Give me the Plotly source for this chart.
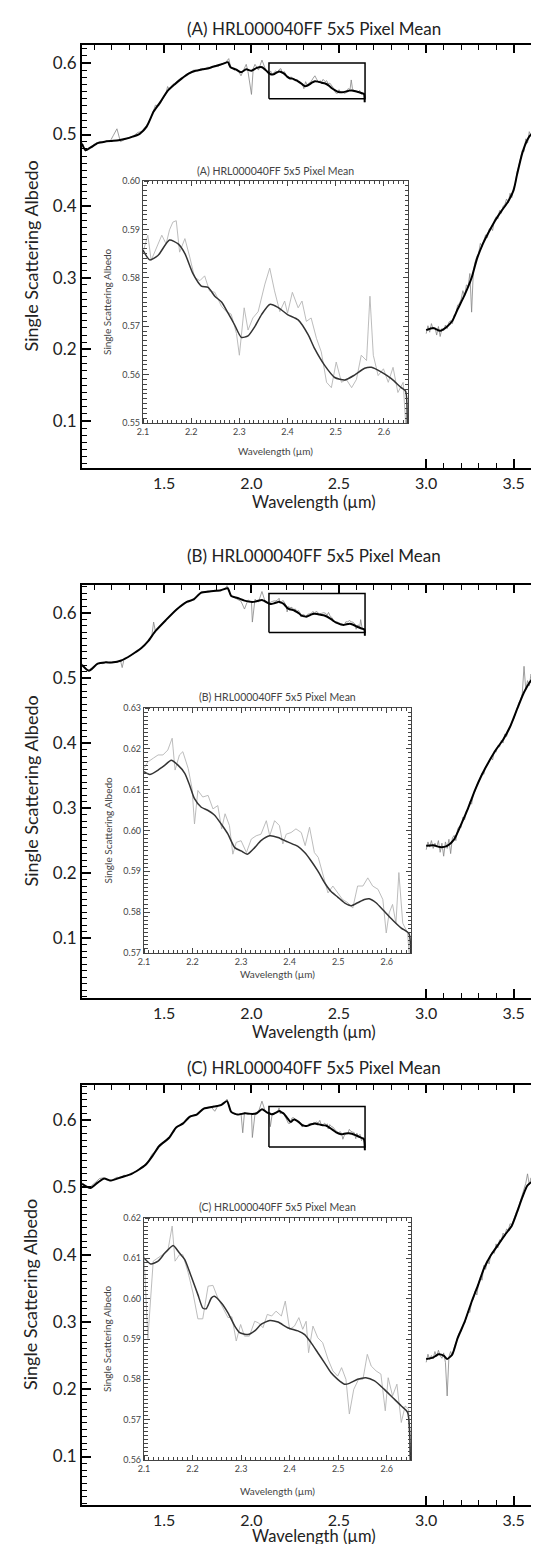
import plotly.graph_objects as go

# ======================= DATA =======================
# ---------- Panel A ----------
A_nir_wl = [1.03,1.04,1.05,1.07,1.09,1.11,1.13,1.15,1.17,1.19,1.21,1.23,1.25,1.27,1.29,1.31,1.33,1.35,1.37,1.39,
            1.41,1.43,1.45,1.47,1.49,1.51,1.52,1.53,1.55,1.57,1.59,1.61,1.63,1.65,1.67,1.69,1.71,1.73,1.75,1.77,
            1.79,1.81,1.83,1.85,1.87,1.88,1.90,1.92,1.94,1.96,1.97,1.98,2.00,2.01,2.02,2.04,2.06,2.08]
A_nir_raw = [0.489,0.482,0.477,0.481,0.485,0.488,0.490,0.489,0.491,0.490,0.499,0.508,0.490,0.493,0.495,0.497,0.499,0.503,0.504,0.510,
             0.516,0.526,0.541,0.540,0.549,0.557,0.567,0.563,0.570,0.573,0.578,0.580,0.585,0.586,0.590,0.589,0.592,0.591,0.594,0.593,
             0.596,0.595,0.599,0.600,0.606,0.595,0.590,0.591,0.582,0.592,0.598,0.588,0.556,0.592,0.598,0.590,0.604,0.591]
A_nir_fit_wl = [1.03,1.05,1.08,1.12,1.16,1.20,1.24,1.28,1.32,1.36,1.40,1.44,1.48,1.52,1.56,1.60,1.64,1.68,1.72,1.76,
                1.80,1.84,1.865,1.88,1.91,1.94,1.97,2.00,2.03,2.06,2.09]
A_nir_fit = [0.487,0.478,0.482,0.488,0.490,0.491,0.492,0.494,0.497,0.501,0.511,0.532,0.546,0.561,0.570,0.578,0.585,0.589,0.591,0.593,
             0.596,0.599,0.601,0.594,0.591,0.587,0.591,0.589,0.593,0.594,0.588]
A_zoom_wl = [2.100,2.110,2.117,2.131,2.139,2.148,2.155,2.162,2.169,2.176,2.187,2.197,2.207,2.218,2.228,2.238,2.249,2.263,2.273,2.283,
             2.294,2.300,2.310,2.318,2.328,2.339,2.353,2.363,2.373,2.384,2.394,2.400,2.410,2.422,2.430,2.439,2.449,2.460,2.470,2.481,
             2.491,2.501,2.512,2.522,2.533,2.543,2.553,2.564,2.571,2.578,2.588,2.599,2.609,2.619,2.629,2.640,2.648]
A_zoom_raw = [0.5853,0.5888,0.5836,0.5870,0.5888,0.5870,0.5899,0.5915,0.5918,0.5853,0.5881,0.5843,0.5801,0.5794,0.5804,0.5773,0.5770,0.5741,0.5730,0.5725,
              0.5685,0.5640,0.5738,0.5692,0.5717,0.5730,0.5787,0.5820,0.5773,0.5730,0.5752,0.5727,0.5770,0.5738,0.5752,0.5710,0.5717,0.5675,0.5647,0.5584,
              0.5573,0.5626,0.5584,0.5590,0.5573,0.5590,0.5640,0.5629,0.5762,0.5640,0.5598,0.5612,0.5584,0.5615,0.5563,0.5584,0.5450]
A_zoom_fit_wl = [2.100,2.114,2.131,2.155,2.173,2.187,2.204,2.221,2.235,2.249,2.263,2.276,2.290,2.304,2.318,2.332,2.346,2.363,2.380,2.400,
                 2.422,2.443,2.456,2.477,2.498,2.519,2.539,2.560,2.574,2.595,2.616,2.636,2.645,2.648]
A_zoom_fit = [0.5857,0.5837,0.5846,0.5878,0.5870,0.5850,0.5808,0.5783,0.5780,0.5762,0.5750,0.5728,0.5703,0.5677,0.5680,0.5699,0.5724,0.5745,0.5739,0.5724,
              0.5713,0.5682,0.5654,0.5619,0.5594,0.5589,0.5599,0.5613,0.5615,0.5605,0.5591,0.5573,0.5566,0.5450]
A_far_wl = [3.00,3.01,3.02,3.03,3.04,3.05,3.06,3.07,3.08,3.09,3.10,3.11,3.12,3.13,3.14,3.15,3.16,3.17,3.18,3.19,
            3.20,3.21,3.22,3.23,3.24,3.25,3.26,3.27,3.28,3.29,3.30,3.31,3.32,3.33,3.34,3.35,3.36,3.37,3.38,3.39,
            3.40,3.41,3.42,3.43,3.44,3.45,3.46,3.47,3.48,3.49,3.50,3.51,3.52,3.53,3.54,3.55,3.56,3.57,3.58,3.59,
            3.60,3.61,3.62,3.63,3.64,3.65,3.66,3.67,3.68]
A_far_raw = [0.222,0.233,0.224,0.236,0.228,0.231,0.220,0.232,0.218,0.229,0.226,0.234,0.229,0.238,0.240,0.236,0.248,0.250,0.262,0.264,
             0.270,0.282,0.274,0.290,0.288,0.306,0.252,0.310,0.322,0.330,0.334,0.348,0.344,0.352,0.360,0.356,0.368,0.370,0.366,0.380,
             0.385,0.382,0.394,0.390,0.400,0.402,0.410,0.405,0.418,0.412,0.426,0.430,0.448,0.456,0.468,0.478,0.476,0.494,0.488,0.504,
             0.498,0.512,0.499,0.515,0.505,0.512,0.500,0.518,0.505]
A_far_fit_wl = [3.00,3.04,3.08,3.12,3.15,3.18,3.22,3.26,3.29,3.32,3.35,3.39,3.43,3.47,3.50,3.52,3.55,3.58,3.60,3.63,3.66,3.68]
A_far_fit = [0.227,0.230,0.226,0.232,0.240,0.256,0.276,0.300,0.326,0.345,0.360,0.378,0.393,0.407,0.422,0.444,0.474,0.493,0.500,0.502,0.501,0.499]

# ---------- Panel B ----------
B_nir_wl = [1.03,1.05,1.07,1.09,1.11,1.13,1.15,1.17,1.19,1.21,1.23,1.25,1.26,1.27,1.29,1.31,1.33,1.35,1.37,1.39,
            1.41,1.43,1.44,1.45,1.47,1.49,1.51,1.53,1.55,1.57,1.59,1.61,1.63,1.65,1.67,1.69,1.71,1.73,1.75,1.77,
            1.79,1.81,1.83,1.85,1.86,1.88,1.90,1.92,1.94,1.96,1.98,2.00,2.005,2.02,2.04,2.06,2.08]
B_nir_raw = [0.522,0.514,0.512,0.517,0.521,0.523,0.522,0.525,0.523,0.525,0.524,0.527,0.516,0.528,0.531,0.535,0.538,0.542,0.546,0.551,
             0.556,0.566,0.586,0.572,0.578,0.584,0.589,0.595,0.600,0.606,0.609,0.614,0.618,0.619,0.622,0.626,0.632,0.632,0.634,0.633,
             0.635,0.634,0.636,0.637,0.642,0.627,0.624,0.621,0.618,0.606,0.620,0.617,0.586,0.621,0.617,0.633,0.616]
B_nir_fit_wl = [1.03,1.07,1.12,1.16,1.20,1.255,1.31,1.37,1.41,1.45,1.51,1.57,1.63,1.67,1.71,1.76,1.825,1.864,1.884,1.92,
                1.96,2.005,2.03,2.06,2.09]
B_nir_fit = [0.520,0.511,0.522,0.524,0.524,0.527,0.535,0.546,0.557,0.572,0.589,0.605,0.617,0.621,0.631,0.633,0.635,0.638,0.626,0.623,
             0.619,0.617,0.618,0.620,0.616]
B_zoom_wl = [2.100,2.108,2.119,2.129,2.139,2.149,2.158,2.164,2.173,2.180,2.191,2.199,2.204,2.211,2.221,2.232,2.242,2.252,2.260,2.267,
             2.276,2.283,2.290,2.300,2.311,2.321,2.331,2.341,2.352,2.359,2.369,2.379,2.386,2.393,2.403,2.413,2.424,2.432,2.441,2.451,
             2.459,2.468,2.479,2.489,2.499,2.509,2.520,2.530,2.540,2.551,2.561,2.571,2.582,2.592,2.599,2.605,2.612,2.619,2.625,2.633,
             2.643,2.649]
B_zoom_raw = [0.6152,0.6168,0.6177,0.6185,0.6185,0.6197,0.6226,0.6148,0.6185,0.6193,0.6152,0.6103,0.6016,0.6098,0.6082,0.6086,0.6053,0.6061,0.6004,0.6041,
              0.6012,0.5942,0.5971,0.5975,0.5946,0.5979,0.5987,0.5991,0.6024,0.5987,0.6024,0.6012,0.5967,0.5991,0.5995,0.6004,0.5995,0.5963,0.6008,0.5946,
              0.5934,0.5897,0.5847,0.5864,0.5847,0.5831,0.5823,0.5810,0.5864,0.5864,0.5884,0.5864,0.5856,0.5831,0.5749,0.5798,0.5819,0.5773,0.5897,0.5773,
              0.5749,0.5650]
B_zoom_fit_wl = [2.100,2.112,2.129,2.143,2.156,2.170,2.184,2.194,2.204,2.218,2.232,2.245,2.259,2.273,2.287,2.300,2.313,2.328,2.341,2.359,
                 2.376,2.396,2.417,2.431,2.444,2.458,2.472,2.485,2.499,2.513,2.527,2.540,2.554,2.564,2.578,2.595,2.612,2.630,2.646,2.649]
B_zoom_fit = [0.6144,0.6137,0.6148,0.6160,0.6172,0.6160,0.6140,0.6111,0.6078,0.6057,0.6049,0.6038,0.6016,0.5991,0.5958,0.5950,0.5942,0.5958,0.5975,0.5987,
              0.5983,0.5972,0.5961,0.5946,0.5926,0.5901,0.5872,0.5851,0.5837,0.5823,0.5816,0.5823,0.5831,0.5833,0.5823,0.5802,0.5781,0.5761,0.5747,0.5650]
B_far_wl = [3.00,3.01,3.02,3.03,3.04,3.05,3.06,3.07,3.08,3.09,3.10,3.11,3.12,3.13,3.14,3.15,3.16,3.17,3.18,3.19,
            3.20,3.21,3.22,3.23,3.24,3.25,3.26,3.27,3.28,3.29,3.30,3.31,3.32,3.33,3.34,3.35,3.36,3.37,3.38,3.39,
            3.40,3.41,3.42,3.43,3.44,3.45,3.46,3.47,3.48,3.49,3.50,3.51,3.52,3.53,3.54,3.55,3.56,3.57,3.58,3.59,
            3.60,3.61,3.62,3.63,3.64,3.65,3.66,3.67,3.68]
B_far_raw = [0.236,0.248,0.240,0.250,0.238,0.246,0.240,0.250,0.232,0.246,0.226,0.248,0.238,0.252,0.230,0.254,0.258,0.250,0.268,0.272,
             0.270,0.286,0.282,0.296,0.298,0.310,0.306,0.322,0.326,0.336,0.340,0.346,0.354,0.352,0.364,0.366,0.372,0.378,0.374,0.388,
             0.386,0.396,0.394,0.404,0.400,0.414,0.410,0.420,0.424,0.432,0.436,0.446,0.452,0.462,0.466,0.476,0.518,0.482,0.496,0.488,
             0.506,0.498,0.512,0.500,0.514,0.504,0.510,0.500,0.506]
B_far_fit_wl = [3.00,3.04,3.08,3.12,3.16,3.20,3.24,3.28,3.32,3.36,3.40,3.44,3.48,3.52,3.56,3.60,3.63,3.66,3.68]
B_far_fit = [0.242,0.243,0.240,0.242,0.252,0.275,0.300,0.328,0.352,0.372,0.390,0.405,0.425,0.452,0.478,0.496,0.502,0.502,0.498]

# ---------- Panel C ----------
C_nir_wl = [1.03,1.05,1.07,1.09,1.11,1.13,1.15,1.17,1.19,1.21,1.23,1.25,1.27,1.29,1.31,1.33,1.35,1.37,1.39,1.41,
            1.43,1.45,1.47,1.49,1.51,1.53,1.55,1.57,1.59,1.61,1.63,1.65,1.67,1.69,1.71,1.73,1.75,1.77,1.79,1.81,
            1.83,1.85,1.86,1.88,1.90,1.92,1.94,1.95,1.96,1.98,2.00,2.005,2.02,2.04,2.06,2.08]
C_nir_raw = [0.507,0.501,0.499,0.503,0.508,0.513,0.514,0.511,0.509,0.512,0.515,0.514,0.518,0.517,0.521,0.522,0.526,0.529,0.534,0.538,
             0.549,0.553,0.562,0.566,0.568,0.575,0.584,0.590,0.592,0.596,0.603,0.606,0.607,0.609,0.614,0.617,0.618,0.619,0.613,0.622,
             0.623,0.627,0.631,0.613,0.609,0.608,0.610,0.581,0.611,0.608,0.610,0.574,0.609,0.612,0.628,0.612]
C_nir_fit_wl = [1.03,1.078,1.12,1.157,1.196,1.255,1.314,1.393,1.432,1.471,1.53,1.569,1.609,1.648,1.687,1.727,1.785,1.825,1.86,1.884,
                1.923,1.962,2.005,2.03,2.06,2.09]
C_nir_fit = [0.505,0.499,0.507,0.513,0.510,0.515,0.520,0.533,0.546,0.561,0.574,0.589,0.595,0.605,0.608,0.617,0.620,0.622,0.628,0.612,
             0.608,0.610,0.609,0.610,0.616,0.611]
C_zoom_wl = [2.100,2.108,2.119,2.129,2.139,2.149,2.158,2.164,2.173,2.180,2.191,2.201,2.211,2.221,2.232,2.242,2.252,2.263,2.273,2.281,
             2.290,2.299,2.307,2.317,2.328,2.336,2.345,2.354,2.363,2.372,2.383,2.391,2.400,2.410,2.419,2.427,2.434,2.439,2.448,2.458,
             2.468,2.479,2.489,2.499,2.507,2.516,2.523,2.532,2.542,2.551,2.560,2.568,2.578,2.588,2.597,2.603,2.612,2.621,2.630,2.638,
             2.645,2.649]
C_zoom_raw = [0.6109,0.5901,0.6093,0.6101,0.6109,0.6118,0.6180,0.6093,0.6109,0.6109,0.6064,0.6014,0.5950,0.5950,0.6031,0.6033,0.6002,0.5977,0.5953,0.5955,
              0.5895,0.5936,0.5907,0.5907,0.5944,0.5940,0.5928,0.5961,0.5957,0.5969,0.5957,0.5994,0.5924,0.5932,0.5953,0.5924,0.5944,0.5866,0.5932,0.5903,
              0.5891,0.5850,0.5821,0.5808,0.5829,0.5800,0.5714,0.5775,0.5800,0.5800,0.5862,0.5833,0.5821,0.5813,0.5722,0.5804,0.5759,0.5788,0.5693,0.5734,
              0.5726,0.5550]
C_zoom_fit_wl = [2.100,2.114,2.129,2.143,2.160,2.173,2.184,2.197,2.211,2.221,2.228,2.239,2.245,2.259,2.273,2.287,2.297,2.314,2.328,2.341,
                 2.359,2.376,2.396,2.417,2.431,2.444,2.458,2.472,2.485,2.499,2.513,2.523,2.540,2.557,2.575,2.595,2.612,2.630,2.643,2.649]
C_zoom_fit = [0.6101,0.6086,0.6093,0.6113,0.6132,0.6113,0.6097,0.6056,0.6010,0.5977,0.5975,0.6002,0.6006,0.5990,0.5965,0.5932,0.5916,0.5911,0.5920,0.5936,
              0.5946,0.5942,0.5928,0.5920,0.5911,0.5891,0.5866,0.5841,0.5817,0.5800,0.5788,0.5790,0.5800,0.5804,0.5796,0.5775,0.5755,0.5734,0.5718,0.5550]
C_far_wl = [3.00,3.01,3.02,3.03,3.04,3.05,3.06,3.07,3.08,3.09,3.10,3.11,3.12,3.13,3.14,3.15,3.16,3.17,3.18,3.19,
            3.20,3.21,3.22,3.23,3.24,3.25,3.26,3.27,3.28,3.29,3.30,3.31,3.32,3.33,3.34,3.35,3.36,3.37,3.38,3.39,
            3.40,3.41,3.42,3.43,3.44,3.45,3.46,3.47,3.48,3.49,3.50,3.51,3.52,3.53,3.54,3.55,3.56,3.57,3.58,3.59,
            3.60,3.61,3.615,3.625,3.635,3.645,3.655,3.66,3.67,3.68]
C_far_raw = [0.240,0.252,0.244,0.250,0.246,0.256,0.248,0.258,0.250,0.246,0.254,0.240,0.190,0.248,0.256,0.250,0.262,0.270,0.276,0.284,
             0.286,0.296,0.298,0.306,0.316,0.314,0.330,0.334,0.346,0.340,0.358,0.366,0.362,0.384,0.378,0.392,0.386,0.400,0.404,0.402,
             0.416,0.410,0.422,0.420,0.432,0.428,0.438,0.436,0.446,0.444,0.452,0.458,0.466,0.472,0.480,0.488,0.496,0.506,0.520,0.504,
             0.514,0.508,0.410,0.515,0.598,0.410,0.512,0.508,0.514,0.510]
C_far_fit_wl = [3.00,3.04,3.07,3.10,3.12,3.15,3.18,3.22,3.26,3.30,3.33,3.37,3.41,3.45,3.49,3.52,3.55,3.58,3.62,3.66,3.68]
C_far_fit = [0.245,0.247,0.252,0.250,0.245,0.252,0.276,0.300,0.330,0.357,0.379,0.399,0.414,0.429,0.443,0.463,0.485,0.503,0.510,0.512,0.509]

# ---- tick labels / texts ----
main_xtick_vals = [1.5, 2.0, 2.5, 3.0, 3.5]
main_xtick_text = ["1.5", "2.0", "2.5", "3.0", "3.5"]
main_ytick_vals = [0.1, 0.2, 0.3, 0.4, 0.5, 0.6]
main_ytick_text = ["0.1", "0.2", "0.3", "0.4", "0.5", "0.6"]
zoom_xtick_vals = [2.1, 2.2, 2.3, 2.4, 2.5, 2.6]
zoom_xtick_text = ["2.1", "2.2", "2.3", "2.4", "2.5", "2.6"]
zoom_ytick_vals = [[0.55, 0.56, 0.57, 0.58, 0.59, 0.60],
                   [0.57, 0.58, 0.59, 0.60, 0.61, 0.62, 0.63],
                   [0.56, 0.57, 0.58, 0.59, 0.60, 0.61, 0.62]]
zoom_ytick_text = [["0.55", "0.56", "0.57", "0.58", "0.59", "0.60"],
                   ["0.57", "0.58", "0.59", "0.60", "0.61", "0.62", "0.63"],
                   ["0.56", "0.57", "0.58", "0.59", "0.60", "0.61", "0.62"]]
far_tick_major = [3.0, 3.5]
far_tick_minor = [3.1, 3.2, 3.3, 3.4, 3.6]
zoom_xrange = [2.1, 2.65]
zoom_yranges = [[0.55, 0.60], [0.57, 0.63], [0.56, 0.62]]
titles = ["(A) HRL000040FF 5x5 Pixel Mean", "(B) HRL000040FF 5x5 Pixel Mean", "(C) HRL000040FF 5x5 Pixel Mean"]
XLABEL = "Wavelength (µm)"
YLABEL = "Single Scattering Albedo"

# ======================= LAYOUT (pixel geometry) =======================
W, H = 539, 1544
FONT = "Lato"
main_xrange = [1.03, 3.68]
geo = [
    dict(main=(74, 537, 37, 460), inset=(135, 400, 173, 415), title_y=20, ititle_y=163, xlab_y=494, ixlab_y=443,
         yrange=[0.0344, 0.625]),
    dict(main=(74, 537, 577, 990), inset=(136, 403, 700, 945), title_y=548, ititle_y=689, xlab_y=1024, ixlab_y=966,
         yrange=[0.008, 0.643]),
    dict(main=(74, 537, 1077, 1497), inset=(136, 403, 1210, 1452), title_y=1059, ititle_y=1199, xlab_y=1528, ixlab_y=1483,
         yrange=[0.028, 0.652]),
]
series = [
    (A_nir_wl, A_nir_raw, A_nir_fit_wl, A_nir_fit, A_zoom_wl, A_zoom_raw, A_zoom_fit_wl, A_zoom_fit, A_far_wl, A_far_raw, A_far_fit_wl, A_far_fit),
    (B_nir_wl, B_nir_raw, B_nir_fit_wl, B_nir_fit, B_zoom_wl, B_zoom_raw, B_zoom_fit_wl, B_zoom_fit, B_far_wl, B_far_raw, B_far_fit_wl, B_far_fit),
    (C_nir_wl, C_nir_raw, C_nir_fit_wl, C_nir_fit, C_zoom_wl, C_zoom_raw, C_zoom_fit_wl, C_zoom_fit, C_far_wl, C_far_raw, C_far_fit_wl, C_far_fit),
]


def grid(start, stop, step, nd, skip=()):
    """Tick-mark positions (axis decoration only)."""
    out, k = [], 0
    while True:
        v = round(start + k * step, nd)
        if v > stop + 1e-9:
            break
        if all(abs(v - s) > 1e-9 for s in skip):
            out.append(v)
        k += 1
    return out


def ax(kind, n):
    return kind if n == 1 else f"{kind}{n}"


def lkey(kind, n):
    return f"{kind}axis" if n == 1 else f"{kind}axis{n}"


fig = go.Figure()
layout = {}
annotations = []

RAW_MAIN = dict(color="#858585", width=0.8)
FIT_MAIN = dict(color="#000000", width=2.0, shape="spline", smoothing=0.6)
RAW_INS = dict(color="#b4b4b4", width=0.9)
FIT_INS = dict(color="#333333", width=1.5, shape="spline", smoothing=0.6)
common = dict(mode="lines", hoverinfo="skip", showlegend=False)
base = dict(showgrid=False, zeroline=False)

top_major = grid(1.5, 3.5, 0.5, 2)
top_minor = grid(1.1, 3.6, 0.1, 2, skip=top_major)
main_y_minor = grid(0.01, 0.65, 0.01, 3, skip=main_ytick_vals)
zoom_x_minor = grid(2.11, 2.65, 0.01, 3, skip=zoom_xtick_vals)


def tickset(vals, minor_vals, color, maj_len, min_len, maj_w, min_w, kind="inside"):
    return dict(tickmode="array", tickvals=vals, ticks=kind, ticklen=maj_len, tickwidth=maj_w, tickcolor=color,
                minor=dict(tickmode="array", tickvals=minor_vals, ticks=kind,
                           ticklen=min_len, tickwidth=min_w, tickcolor=color))


N_AX = 7
for p in range(3):
    g = geo[p]
    (nw, nr, nfw, nf, zw, zr, zfw, zf, fw, fr, ffw, ff) = series[p]
    # independent subplots: main data (m), top strip (t), bottom strip (b), inset (i),
    # left-edge strip (lm), inset left-edge strip (li), inset bottom-edge strip (bi)
    xm, xt, xb, xi, xlm, xli, xbi = [N_AX * p + k for k in range(1, N_AX + 1)]
    ym, yt, yb, yi, ylm, yli, ybi = [N_AX * p + k for k in range(1, N_AX + 1)]
    l, r, t, b = g["main"]
    il, ir, it, ib = g["inset"]
    X = lambda n: ax("x", n)
    Y = lambda n: ax("y", n)
    yr_main = g["yrange"]
    yr_zoom = zoom_yranges[p]
    zoom_y_minor = grid(yr_zoom[0] + 0.001, yr_zoom[1], 0.001, 4, skip=zoom_ytick_vals[p])
    dom_x = [l / W, r / W]
    dom_y = [1 - b / H, 1 - t / H]
    idom_x = [il / W, ir / W]
    idom_y = [1 - ib / H, 1 - it / H]

    fig.add_trace(go.Scatter(x=nw + zw, y=nr + zr, line=RAW_MAIN, xaxis=X(xm), yaxis=Y(ym), **common))
    fig.add_trace(go.Scatter(x=fw, y=fr, line=RAW_MAIN, xaxis=X(xm), yaxis=Y(ym), **common))
    fig.add_trace(go.Scatter(x=nfw + zfw, y=nf + zf, line=FIT_MAIN, xaxis=X(xm), yaxis=Y(ym), **common))
    fig.add_trace(go.Scatter(x=ffw, y=ff, line=FIT_MAIN, xaxis=X(xm), yaxis=Y(ym), **common))
    fig.add_trace(go.Scatter(x=zw, y=zr, line=RAW_INS, xaxis=X(xi), yaxis=Y(yi), **common))
    fig.add_trace(go.Scatter(x=zfw, y=zf, line=FIT_INS, xaxis=X(xi), yaxis=Y(yi), **common))
    # zoom box on the main panel, drawn through the main axes (same range as the inset)
    fig.add_trace(go.Scatter(
        x=[zoom_xrange[0], zoom_xrange[1], zoom_xrange[1], zoom_xrange[0], zoom_xrange[0]],
        y=[yr_zoom[0], yr_zoom[0], yr_zoom[1], yr_zoom[1], yr_zoom[0]],
        line=dict(color="black", width=1.5), xaxis=X(xm), yaxis=Y(ym), **common))
    # empty placeholders so the tick-strip subplots exist
    for xx, yy in [(xt, yt), (xb, yb), (xlm, ylm), (xli, yli), (xbi, ybi)]:
        fig.add_trace(go.Scatter(x=[None], y=[None], xaxis=X(xx), yaxis=Y(yy), **common))

    # ---- main data subplot: labels, frame, y ticks ----
    layout[lkey("x", xm)] = dict(
        base, domain=dom_x, range=main_xrange, anchor=Y(ym),
        showline=True, linewidth=2, linecolor="black", mirror=True, ticks="",
        tickmode="array", tickvals=main_xtick_vals, ticktext=main_xtick_text,
        tickfont=dict(family=FONT, size=16, color="#222"),
    )
    layout[lkey("y", ym)] = dict(
        base, domain=dom_y, range=yr_main, anchor=X(xm),
        showline=True, linewidth=2, linecolor="black", mirror="ticks",
        ticktext=main_ytick_text, tickfont=dict(family=FONT, size=17, color="#222"),
        **tickset(main_ytick_vals, main_y_minor, "black", 8, 4, 1.5, 1.0),
    )
    # top tick strip
    layout[lkey("x", xt)] = dict(base, domain=dom_x, range=main_xrange, anchor=Y(yt), side="top",
                                 showline=False, showticklabels=False,
                                 **tickset(top_major, top_minor, "black", 8, 5, 1.5, 1.2))
    layout[lkey("y", yt)] = dict(base, domain=dom_y, range=[0, 1], anchor=X(xt), visible=False)
    # bottom tick strip for the 3-3.7 um segment
    layout[lkey("x", xb)] = dict(base, domain=dom_x, range=main_xrange, anchor=Y(yb), side="bottom",
                                 showline=False, showticklabels=False,
                                 **tickset(far_tick_major, far_tick_minor, "black", 9, 5, 1.5, 1.2))
    layout[lkey("y", yb)] = dict(base, domain=dom_y, range=[0, 1], anchor=X(xb), visible=False)
    # left-edge tick strip: a right-side axis placed on the left frame, ticks pointing into the plot
    layout[lkey("x", xlm)] = dict(base, domain=dom_x, range=[0, 1], anchor=Y(ylm), visible=False)
    layout[lkey("y", ylm)] = dict(base, domain=dom_y, range=yr_main, anchor="free", position=l / W, side="right",
                                  showline=False, showticklabels=False,
                                  **tickset(main_ytick_vals, main_y_minor, "black", 8, 4, 1.5, 1.0, kind="outside"))

    # ---- inset ----
    layout[lkey("x", xi)] = dict(
        base, domain=idom_x, range=zoom_xrange, anchor=Y(yi),
        showline=True, linewidth=1.2, linecolor="#444", mirror="ticks",
        ticktext=zoom_xtick_text, tickfont=dict(family=FONT, size=9, color="#444"),
        **tickset(zoom_xtick_vals, zoom_x_minor, "#444", 5, 3, 1.0, 0.8),
    )
    layout[lkey("y", yi)] = dict(
        base, domain=idom_y, range=yr_zoom, anchor=X(xi),
        showline=True, linewidth=1.2, linecolor="#444", mirror="ticks",
        ticktext=zoom_ytick_text[p], tickfont=dict(family=FONT, size=9, color="#444"),
        **tickset(zoom_ytick_vals[p], zoom_y_minor, "#444", 5, 3, 1.0, 0.8),
    )
    # inset left-edge strip
    layout[lkey("x", xli)] = dict(base, domain=idom_x, range=[0, 1], anchor=Y(yli), visible=False)
    layout[lkey("y", yli)] = dict(base, domain=idom_y, range=yr_zoom, anchor="free", position=il / W, side="right",
                                  showline=False, showticklabels=False,
                                  **tickset(zoom_ytick_vals[p], zoom_y_minor, "#444", 5, 3, 1.0, 0.8, kind="outside"))
    # inset bottom-edge strip: a top-side axis placed on the bottom frame, ticks pointing up
    layout[lkey("x", xbi)] = dict(base, domain=idom_x, range=zoom_xrange, anchor="free", position=1 - ib / H, side="top",
                                  showline=False, showticklabels=False,
                                  **tickset(zoom_xtick_vals, zoom_x_minor, "#444", 5, 3, 1.0, 0.8, kind="outside"))
    layout[lkey("y", ybi)] = dict(base, domain=idom_y, range=[0, 1], anchor=X(xbi), visible=False)

    def note(text, x, y, size, color, angle=0):
        annotations.append(dict(text=text, xref="paper", yref="paper", x=x / W, y=1 - y / H,
                                xanchor="center", yanchor="middle", showarrow=False, textangle=angle,
                                font=dict(family=FONT, size=size, color=color)))

    note(titles[p], (l + r) / 2, g["title_y"], 17, "#222")
    note(XLABEL, (l + r) / 2, g["xlab_y"], 16.5, "#222")
    note(YLABEL, 22, (t + b) / 2, 18, "#222", -90)
    note(titles[p], (il + ir) / 2, g["ititle_y"], 10.5, "#444")
    note(XLABEL, (il + ir) / 2, g["ixlab_y"], 10, "#444")
    note(YLABEL, 99, (it + ib) / 2, 10, "#444", -90)

fig.update_layout(
    width=W, height=H, margin=dict(l=0, r=0, t=0, b=0), template="none",
    paper_bgcolor="white", plot_bgcolor="rgba(0,0,0,0)", showlegend=False,
    font=dict(family=FONT, color="#222"), annotations=annotations, **layout,
)
fig.write_html("out.html", config=dict(displayModeBar=False))
